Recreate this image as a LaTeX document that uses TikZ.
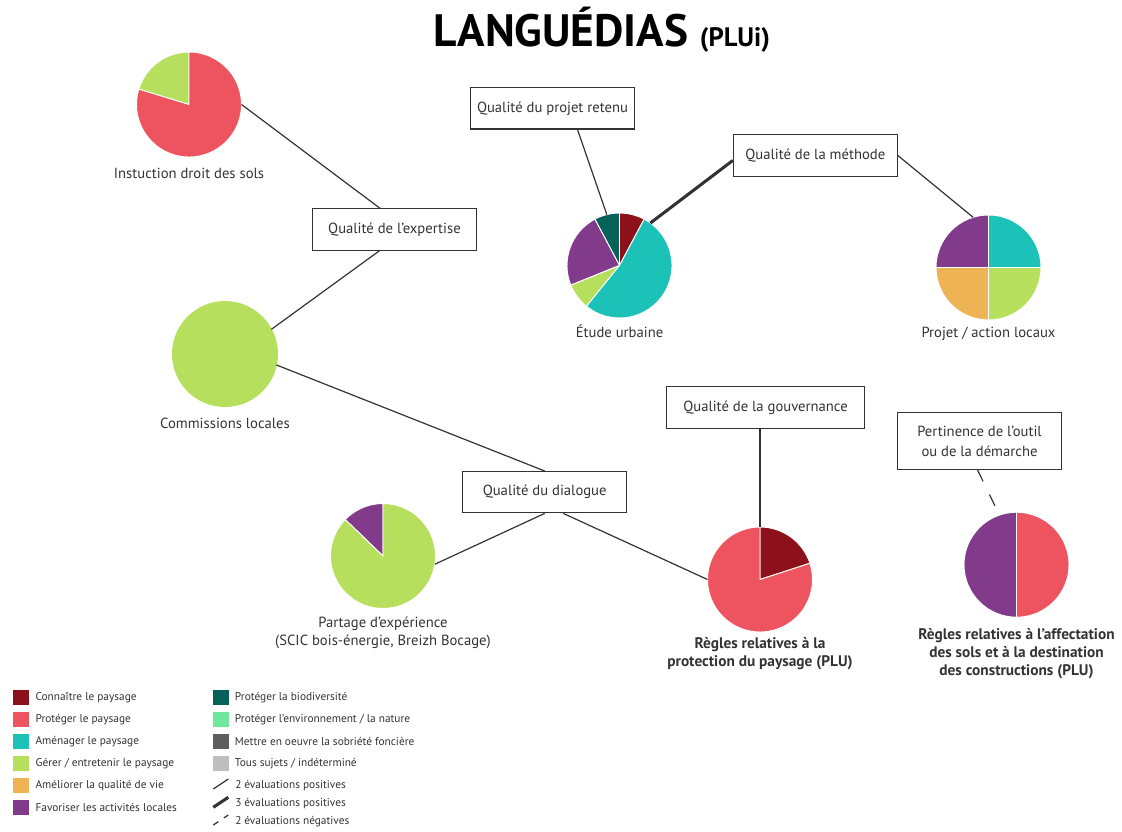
\documentclass[tikz,border=0pt]{standalone}
\usepackage{fontspec}
\setmainfont{PT Sans}
\usepackage{xcolor}
\usepackage{tikz}
\usetikzlibrary{positioning,calc}

\definecolor{connaitre}{HTML}{8C111A}
\definecolor{proteger}{HTML}{EE5360}
\definecolor{amenager}{HTML}{1CC2B7}
\definecolor{gerer}{HTML}{B7DF5E}
\definecolor{ameliorer}{HTML}{EEB355}
\definecolor{favoriser}{HTML}{823B8B}
\definecolor{biodiv}{HTML}{046258}
\definecolor{environ}{HTML}{6FE89E}
\definecolor{sobriete}{HTML}{5F5F5F}
\definecolor{tous}{HTML}{BEBEBE}
\definecolor{ink}{HTML}{333333}

% one slice of a pie: colour, pie node, start angle, end angle
\newcommand{\piepart}[4]{%
 \fill[#1,draw=white,line width=0.7pt] (#2.center) -- ++(#3:52.5)
  arc[start angle=#3,end angle=#4,radius=52.5] -- cycle;}

\begin{document}
\begin{tikzpicture}[x=0.75pt,y=0.75pt,text=ink,font=\fontsize{11}{13}\selectfont,
 pie/.style={circle,minimum size=78.75pt,inner sep=0pt,outer sep=0pt},
 q/.style={draw=ink,line width=0.8pt,fill=white,minimum width=123pt,minimum height=31pt,align=center},
 lab/.style={align=center,inner sep=1pt,font=\fontsize{11}{13.5}\selectfont},
 blab/.style={lab,font=\fontsize{11.5}{13.5}\selectfont\bfseries},
 link/.style={draw=ink,line width=0.9pt},
 sw/.style={minimum width=12pt,minimum height=11.25pt,inner sep=0pt},
 lg/.style={font=\fontsize{8.5}{10}\selectfont,anchor=west,inner sep=0pt}]
\useasboundingbox (0,0) rectangle (1122,-832);

\node[anchor=base,inner sep=0pt,text=black] (title) at (602,-46)
 {\fontsize{34}{40}\selectfont\bfseries LANGUÉDIAS \fontsize{20}{24}\selectfont(PLUi)};

% pies
\node[pie] (ins) at (189,-104.5) {};
\node[pie] (com) at (225,-354) {};
\node[pie] (etu) at (619.5,-265.5) {};
\node[pie] (prj) at (988.5,-267.5) {};
\node[pie] (par) at (383,-556) {};
\node[pie] (pro) at (760,-579.5) {};
\node[pie] (aff) at (1016.5,-564.7) {};

\piepart{gerer}{ins}{90}{163}
\piepart{proteger}{ins}{163}{450}
\fill[gerer] (com.center) circle[radius=53];
\piepart{connaitre}{etu}{62}{90}
\piepart{biodiv}{etu}{90}{118}
\piepart{favoriser}{etu}{118}{202}
\piepart{gerer}{etu}{202}{231}
\piepart{amenager}{etu}{231}{422}
\piepart{amenager}{prj}{0}{90}
\piepart{favoriser}{prj}{90}{180}
\piepart{ameliorer}{prj}{180}{270}
\piepart{gerer}{prj}{270}{360}
\piepart{favoriser}{par}{90}{136}
\piepart{gerer}{par}{136}{450}
\piepart{connaitre}{pro}{18}{90}
\piepart{proteger}{pro}{90}{378}
\piepart{favoriser}{aff}{90}{270}
\piepart{proteger}{aff}{-90}{90}

\node[lab,below=7pt of ins] {Instuction droit des sols};
\node[lab,below=7.5pt of com] {Commissions locales};
\node[lab,below=4pt of etu] {Étude urbaine};
\node[lab,below=4pt of prj] {Projet / action locaux};
\node[lab,below=5pt of par] {Partage d’expérience\\(SCIC bois-énergie, Breizh Bocage)};
\node[blab,below=3pt of pro] {Règles relatives à la\\protection du paysage (PLU)};
\node[blab,below=7.5pt of aff] {Règles relatives à l’affectation\\des sols et à la destination\\des constructions (PLU)};

% criteria
\node[q] (ret) at (552.5,-108.3) {Qualité du projet retenu};
\node[q] (met) at (815.3,-155.5) {Qualité de la méthode};
\node[q] (exp) at (394.5,-229.5) {Qualité de l’expertise};
\node[q,minimum width=148pt] (gov) at (765.5,-407.5) {Qualité de la gouvernance};
\node[q] (dia) at (544.7,-492.2) {Qualité du dialogue};
\node[q,minimum height=42.5pt,font=\fontsize{11}{15}\selectfont] (per) at (979.5,-441) {Pertinence de l’outil\\ou de la démarche};

\draw[link] (ins.0) -- ($(exp.north)+(-14.5,0)$);
\draw[link] ($(exp.south)+(-15,0)$) -- (com.28);
\draw[link] (com.-12) -- (dia.north);
\draw[link] (dia.south) -- (par.-9);
\draw[link] ($(dia.south)+(18.6,0)$) -- (pro.west);
\draw[link] (pro.north) -- (pro.north |- gov.south);
\draw[link] ($(ret.south)+(25,0)$) -- (etu.104);
\draw[link,line width=2.3pt] ($(met.west)+(0,-5)$) -- (etu.54);
\draw[link] (met.east) -- (prj.107);
\draw[link,dash pattern=on 9.5pt off 11pt] ($(per.south)+(-2,0)$) -- (aff.109);

% legend
\foreach \c/\t [count=\i from 0] in {connaitre/Connaître le paysage,proteger/Protéger le paysage,
  amenager/Aménager le paysage,gerer/{Gérer / entretenir le paysage},
  ameliorer/Améliorer la qualité de vie,favoriser/Favoriser les activités locales}
 {\node[sw,fill=\c] (sa\i) at (21.3,-697.3-22*\i) {};
  \node[lg,right=4.3pt of sa\i] {\t};}
\foreach \c/\t [count=\i from 0] in {biodiv/Protéger la biodiversité,environ/{Protéger l’environnement / la nature},
  sobriete/Mettre en oeuvre la sobriété foncière,tous/{Tous sujets / indéterminé}}
 {\node[sw,fill=\c] (sb\i) at (220.7,-697.3-22*\i) {};
  \node[lg,right=4.3pt of sb\i] {\t};}
\node[lg] (l5) at (235,-785.3) {2 évaluations positives};
\node[lg] (l6) at (235,-804) {3 évaluations positives};
\node[lg] (l7) at (235,-821.7) {2 évaluations négatives};
\draw[link] ($(l5.west)+(-21.7,-3.7)$) -- ++(15,10);
\draw[link,line width=2.3pt] ($(l6.west)+(-21.7,-3.3)$) -- ++(15,10);
\draw[link,dash pattern=on 4.5pt off 5pt] ($(l7.west)+(-21.7,-3.3)$) -- ++(15,10);
\end{tikzpicture}
\end{document}
